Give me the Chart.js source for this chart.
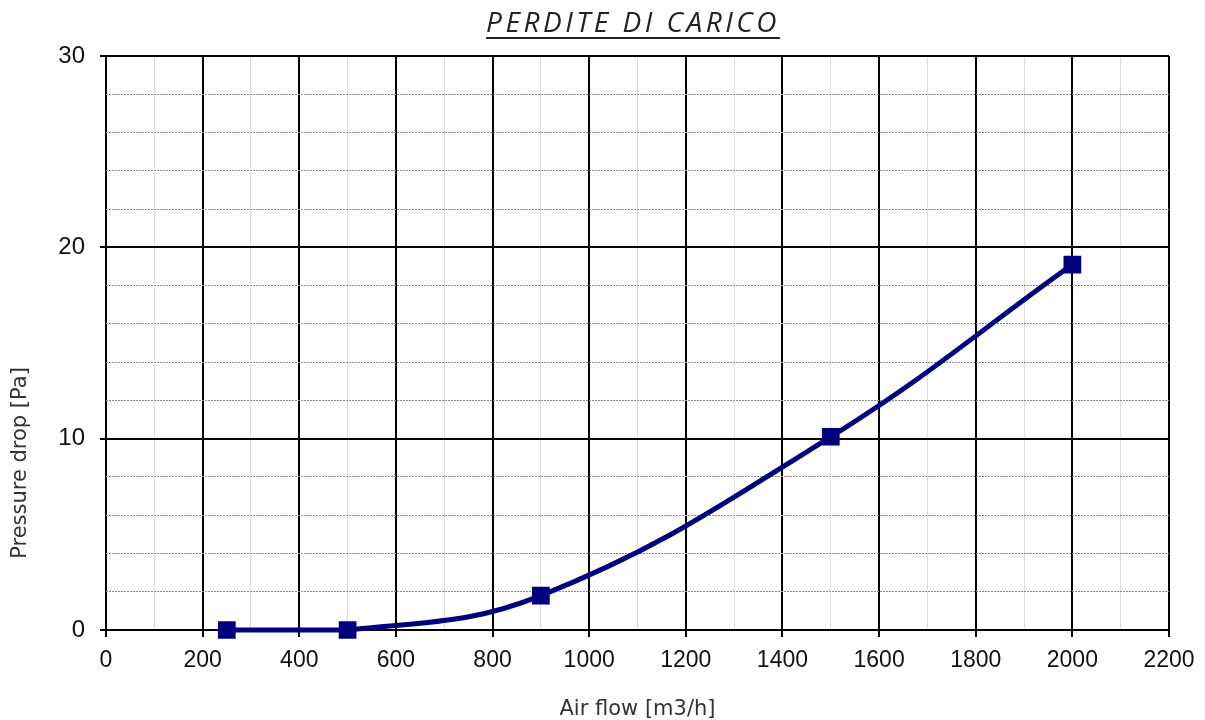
<!DOCTYPE html>
<html>
<head>
<meta charset="utf-8">
<script src="https://cdn.jsdelivr.net/npm/chart.js@4"></script>
<style>
  body { margin: 0; background: #fff; }
  #wrap { position: relative; width: 1205px; height: 720px; }
  #title {
    position: absolute; left: 0; top: 2px; width: 1266px; text-align: center;
    font-family: 'Open Sans', sans-serif; font-style: italic; font-weight: 400;
    font-size: 28px; letter-spacing: 3.5px; color: #222; text-decoration: underline;
    text-underline-offset: 5px; text-decoration-thickness: 2px;
  }
</style>
</head>
<body>
<div id="wrap">
  <div id="title">PERDITE DI CARICO</div>
  <canvas id="chart" width="1205" height="720"></canvas>
</div>
<script>
// values
const airFlow = [250, 500, 900, 1500, 2000];
const pressureDrop = [0, 0, 1.8, 10.1, 19.1];
const xTicksShown = [0, 200, 400, 600, 800, 1000, 1200, 1400, 1600, 1800, 2000, 2200];
const yTicksShown = [0, 10, 20, 30];

const isMajorX = (v) => v % 200 === 0;
const isMajorY = (v) => v % 10 === 0;

// rotated y title, placed lower than the axis centre like the original
const yTitle = {
  id: 'yTitle',
  afterDraw(chart) {
    const ctx = chart.ctx;
    ctx.save();
    ctx.translate(21, 463);
    ctx.rotate(-Math.PI / 2);
    ctx.font = '21px "DejaVu Sans"';
    ctx.fillStyle = '#333';
    ctx.textAlign = 'center';
    ctx.textBaseline = 'middle';
    ctx.fillText('Pressure drop [Pa]', 0, 0);
    ctx.restore();
  }
};

new Chart('chart', {
  type: 'line',
  data: {
    datasets: [{
      label: 'Pressure drop',
      data: airFlow.map((x, i) => ({ x: x, y: pressureDrop[i] })),
      borderColor: '#00007f',
      backgroundColor: '#00007f',
      borderWidth: 5,
      tension: 0.4,
      pointStyle: 'rect',
      pointRadius: 9,
      pointHoverRadius: 9,
      clip: false,
    }],
  },
  options: {
    responsive: false,
    animation: false,
    layout: { padding: { top: 56, right: 36, left: 0, bottom: 0 } },
    plugins: {
      legend: { display: false },
      tooltip: { enabled: false },
    },
    scales: {
      x: {
        type: 'linear',
        min: 0,
        max: 2200,
        ticks: {
          stepSize: 100,
          autoSkip: false,
          maxRotation: 0,
          color: '#111',
          font: { family: 'Liberation Sans', size: 23 },
          padding: 10,
          callback: (v) => xTicksShown.includes(v) ? v : '',
        },
        grid: {
          color: (c) => isMajorX(c.tick.value) ? '#000' : '#dcdcdc',
          lineWidth: (c) => isMajorX(c.tick.value) ? 2 : 1,
          tickColor: (c) => isMajorX(c.tick.value) ? '#000' : 'rgba(0,0,0,0)',
          tickLength: 7,
        },
        border: { display: false },
        title: {
          display: true,
          text: 'Air flow [m3/h]',
          color: '#333',
          font: { family: 'DejaVu Sans', size: 21 },
          padding: { top: 12, bottom: -2 },
        },
        afterFit: (s) => { s.height = 90; },
      },
      y: {
        min: 0,
        max: 30,
        ticks: {
          stepSize: 2,
          autoSkip: false,
          color: '#111',
          font: { family: 'Liberation Sans', size: 24 },
          padding: 15,
          callback: (v) => yTicksShown.includes(v) ? v : '',
        },
        grid: {
          color: (c) => isMajorY(c.tick.value) ? '#000' : '#8a8a8a',
          lineWidth: (c) => isMajorY(c.tick.value) ? 2 : 1,
          tickColor: (c) => isMajorY(c.tick.value) ? '#000' : 'rgba(0,0,0,0)',
          tickLength: 6,
        },
        border: {
          display: false,
          dash: (c) => (c.tick && !isMajorY(c.tick.value)) ? [2, 1] : [],
        },
        afterFit: (s) => { s.width = 106; },
      },
    },
  },
  plugins: [yTitle],
});
</script>
</body>
</html>
